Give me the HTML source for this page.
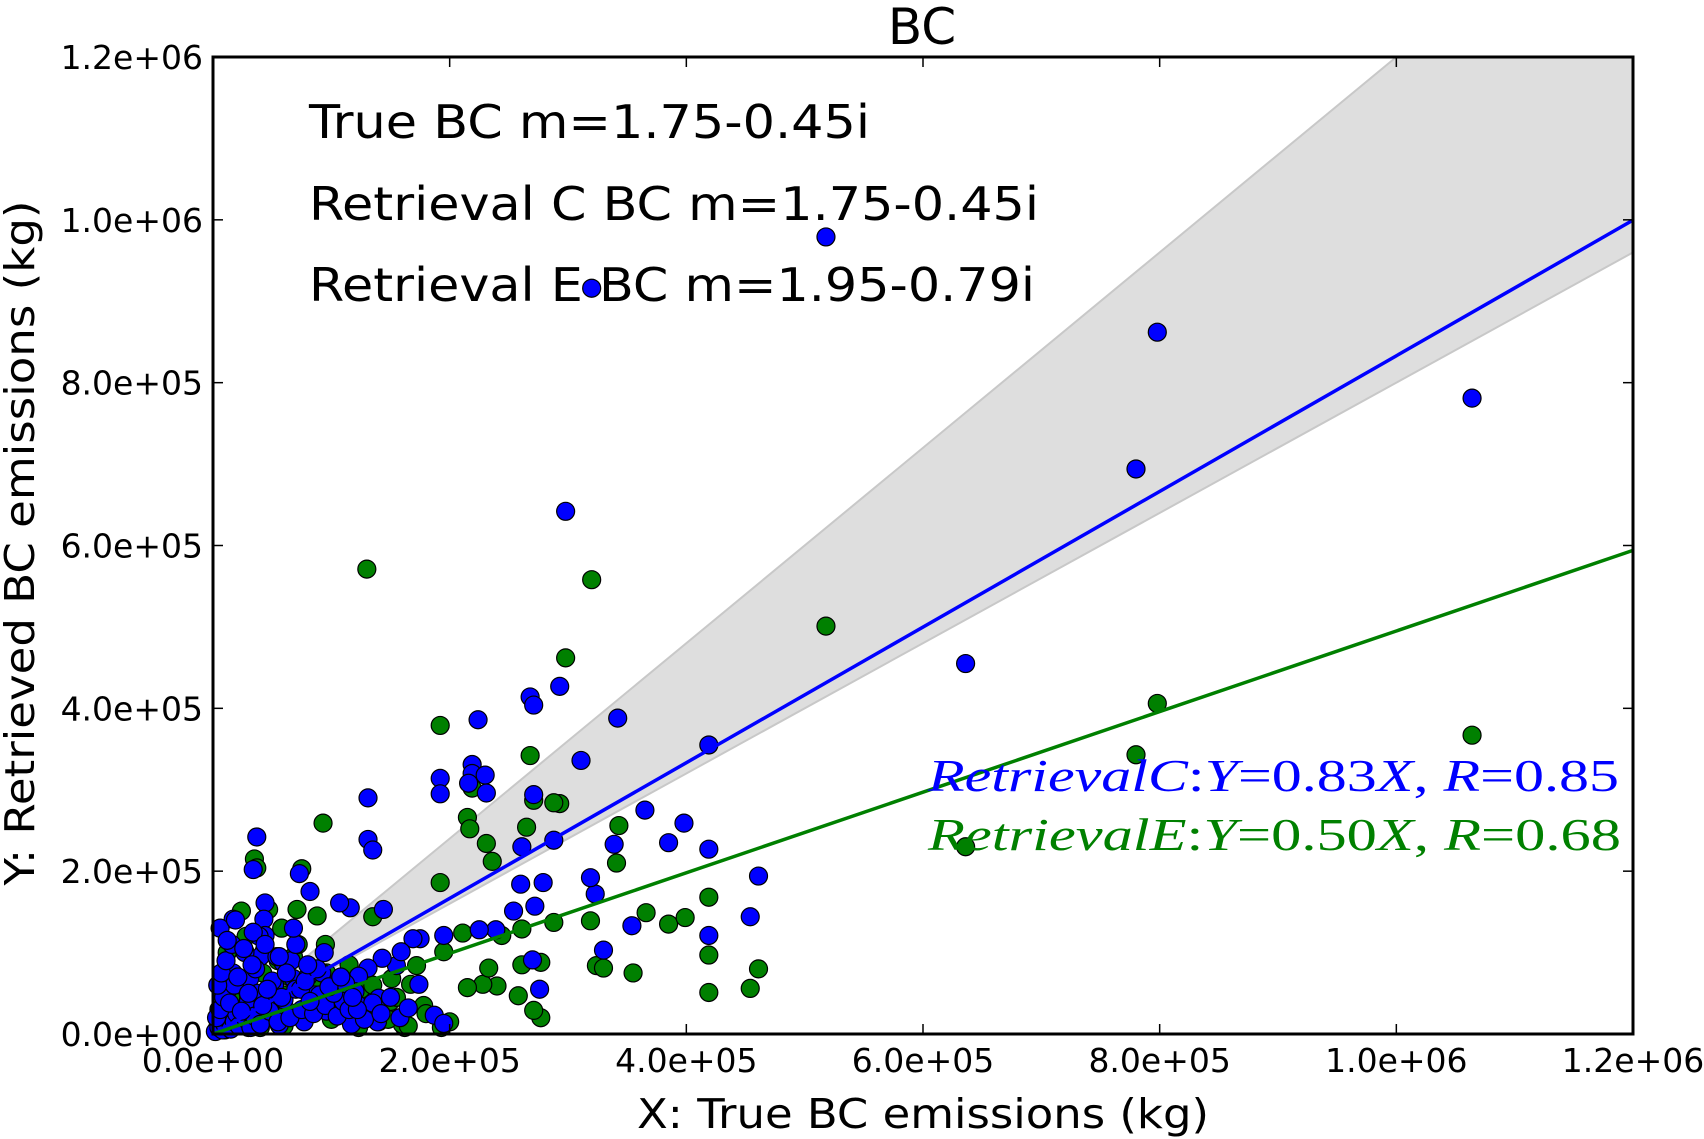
<!DOCTYPE html>
<html><head><meta charset="utf-8"><style>
html,body{margin:0;padding:0;background:#fff;}
svg{display:block;}
</style></head><body>
<svg id="chart" xmlns="http://www.w3.org/2000/svg" width="1704" height="1139" viewBox="0 0 1704 1139">
<rect width="1704" height="1139" fill="#fff"/>
<g id="band"></g>
<g id="points"></g>
<g id="axes"></g>
<text x="922" y="44" font-family="DejaVu Sans, Liberation Sans, sans-serif" font-size="50" text-anchor="middle">BC</text>
<text x="923" y="1128" font-family="DejaVu Sans, Liberation Sans, sans-serif" font-size="41" text-anchor="middle" textLength="572" lengthAdjust="spacingAndGlyphs">X: True BC emissions (kg)</text>
<text transform="translate(34,543) rotate(-90)" font-family="DejaVu Sans, Liberation Sans, sans-serif" font-size="41" text-anchor="middle" textLength="685" lengthAdjust="spacingAndGlyphs">Y: Retrieved BC emissions (kg)</text>
<g font-family="DejaVu Sans, Liberation Sans, sans-serif" font-size="46">
<text x="309" y="138" textLength="561" lengthAdjust="spacingAndGlyphs">True BC m=1.75-0.45i</text>
<text x="309" y="220" textLength="730" lengthAdjust="spacingAndGlyphs">Retrieval C BC m=1.75-0.45i</text>
<text x="309" y="301" textLength="726" lengthAdjust="spacingAndGlyphs">Retrieval E BC m=1.95-0.79i</text>
</g>
<text x="928" y="791" fill="#0000ff" font-family="Liberation Serif, serif" font-size="46" textLength="691" lengthAdjust="spacingAndGlyphs"><tspan font-style="italic">RetrievalC</tspan>:<tspan font-style="italic">Y</tspan>=0.83<tspan font-style="italic">X</tspan>, <tspan font-style="italic">R</tspan>=0.85</text>
<text x="928" y="850" fill="#008000" font-family="Liberation Serif, serif" font-size="46" textLength="693" lengthAdjust="spacingAndGlyphs"><tspan font-style="italic">RetrievalE</tspan>:<tspan font-style="italic">Y</tspan>=0.50<tspan font-style="italic">X</tspan>, <tspan font-style="italic">R</tspan>=0.68</text>
</svg>
<script>
// values in thousands of kg
const xTicks = [0, 200, 400, 600, 800, 1000, 1200];
const xTickLabels = ["0.0e+00","2.0e+05","4.0e+05","6.0e+05","8.0e+05","1.0e+06","1.2e+06"];
const yTicks = [0, 200, 400, 600, 800, 1000, 1200];
const yTickLabels = ["0.0e+00","2.0e+05","4.0e+05","6.0e+05","8.0e+05","1.0e+06","1.2e+06"];
const slopeC = 0.833;
const slopeE = 0.495;
const bandUpper = 1.2;
const bandLower = 0.8;
const greenX = [518,798,1064,780,636,130,320,298,293,268,271,192,219,215,217,231,236,192,93,35,37,75,343,288,265,244,261,288,319,341,366,385,399,419,419,419,461,454,355,324,330,277,261,258,277,271,240,228,215,211,195,172,151,167,146,162,178,24,47,71,88,135,43,68,96,114,59,86,31,13,40,123,233,193,
  10,20,30,50,60,80,100,110,120,140,150,160,5,15,25,45,65,85,105,125,145,165,180,200,35,55,75,95,115,135,155,12,28,42,58,72,90,108,128,148];
const greenY = [501,406,367,343,230,571,558,462,283,342,287,379,302,266,252,234,212,186,259,215,204,203,256,284,254,121,129,137,139,210,149,135,143,168,97,51,80,56,75,84,81,88,85,47,20,29,59,61,57,124,101,84,68,61,28,8,35,151,153,153,145,144,101,95,75,55,48,28,35,21,8,8,81,8,
  5,12,8,20,10,25,18,30,22,15,40,12,30,45,60,50,70,40,35,55,20,10,25,15,80,90,65,110,85,60,45,100,120,75,130,110,62,48,28,18];
const blueX = [518,798,1064,780,636,419,320,298,293,268,271,342,224,219,219,192,192,216,230,231,271,131,311,365,398,385,339,419,461,454,419,354,330,323,319,288,261,260,279,272,254,239,270,276,195,225,175,174,187,195,37,34,131,135,73,82,144,116,107,17,44,43,44,169,155,159,143,131,123,109,140,123,109,86,96,117,139,63,68,50,31,13,22,8,4,40,27,59,17,77,56,
  2,5,8,10,12,15,18,20,22,25,28,30,32,35,38,40,45,48,52,55,60,65,70,75,80,85,90,95,100,105,110,115,120,128,135,142,150,158,165,
  3,6,9,14,18,24,30,36,42,50,58,66,74,82,92,102,112,122,4,7,11,16,21,27,33,39,46,54,62,70,78,88,98,108,118,6,12,19,26,34,44,56,68,80,94];
const blueY = [979,862,781,694,455,355,916,642,427,414,404,388,386,331,320,314,295,308,318,296,294,290,336,275,259,235,233,227,194,144,121,133,103,172,192,238,230,184,186,157,151,128,91,55,121,128,117,61,23,13,242,202,239,226,197,175,153,155,161,141,161,141,121,117,84,101,93,81,71,68,44,35,41,48,28,12,15,28,68,55,68,55,28,15,8,95,101,88,75,15,11,
  3,8,5,12,20,6,15,25,10,30,18,40,8,22,50,12,35,28,60,15,42,20,55,30,70,25,48,35,60,22,40,30,52,18,38,25,45,20,32,
  20,30,45,38,60,28,50,80,35,65,45,90,55,40,75,50,62,30,60,75,90,110,70,100,85,120,55,95,75,110,65,80,58,70,45,130,115,140,105,125,110,95,130,85,100];

const NS = "http://www.w3.org/2000/svg";
const L = 213, R = 1633, T = 57, B = 1034;
const xMax = 1200, yMax = 1200;
function sx(v){ return L + v / xMax * (R - L); }
function sy(v){ return B - v / yMax * (B - T); }
function mk(tag, attrs, parent){
  const e = document.createElementNS(NS, tag);
  for (const k in attrs) e.setAttribute(k, attrs[k]);
  parent.appendChild(e);
  return e;
}

const band = document.getElementById('band');
const bx1 = Math.min(xMax, yMax / bandUpper);
const bandPoly = mk('polygon', {
  points: `${sx(0)},${sy(0)} ${sx(bx1)},${sy(bx1*bandUpper)} ${sx(xMax)},${sy(yMax)} ${sx(xMax)},${sy(xMax*bandLower)}`,
  fill: '#dedede', stroke: '#c8c8c8', 'stroke-width': 2
}, band);



const pts = document.getElementById('points');
for (let i = 0; i < greenX.length; i++) {
  const c = mk('circle', {cx: sx(greenX[i]), cy: sy(greenY[i]), r: 9, fill: '#008000', stroke: '#000', 'stroke-width': 1.2}, pts);
  
  
}
for (let i = 0; i < blueX.length; i++) {
  const c = mk('circle', {cx: sx(blueX[i]), cy: sy(blueY[i]), r: 9, fill: '#0000ff', stroke: '#000', 'stroke-width': 1.2}, pts);
  
  
}

const lc = mk('line', {x1: sx(0), y1: sy(0), x2: sx(xMax), y2: sy(xMax*slopeC), stroke: '#0000ff', 'stroke-width': 3.5}, pts);


const le = mk('line', {x1: sx(0), y1: sy(0), x2: sx(xMax), y2: sy(xMax*slopeE), stroke: '#008000', 'stroke-width': 3.5}, pts);



const ax = document.getElementById('axes');
const frame = mk('rect', {x: L, y: T, width: R - L, height: B - T, fill: 'none', stroke: '#000', 'stroke-width': 3}, ax);


for (let i = 0; i < xTicks.length; i++) {
  const x = sx(xTicks[i]);
  mk('line', {x1: x, y1: B, x2: x, y2: B - 10, stroke: '#000', 'stroke-width': 1.5}, ax);
  mk('line', {x1: x, y1: T, x2: x, y2: T + 10, stroke: '#000', 'stroke-width': 1.5}, ax);
  const t = mk('text', {x: x, y: 1072, 'font-family': 'DejaVu Sans, Liberation Sans, sans-serif', 'font-size': 33, 'text-anchor': 'middle'}, ax);
  t.textContent = xTickLabels[i];
  
  
}
for (let i = 0; i < yTicks.length; i++) {
  const y = sy(yTicks[i]);
  mk('line', {x1: L, y1: y, x2: L + 10, y2: y, stroke: '#000', 'stroke-width': 1.5}, ax);
  mk('line', {x1: R, y1: y, x2: R - 10, y2: y, stroke: '#000', 'stroke-width': 1.5}, ax);
  const t = mk('text', {x: 203, y: y + 12, 'font-family': 'DejaVu Sans, Liberation Sans, sans-serif', 'font-size': 33, 'text-anchor': 'end'}, ax);
  t.textContent = yTickLabels[i];
  
  
}
</script>
</body></html>
